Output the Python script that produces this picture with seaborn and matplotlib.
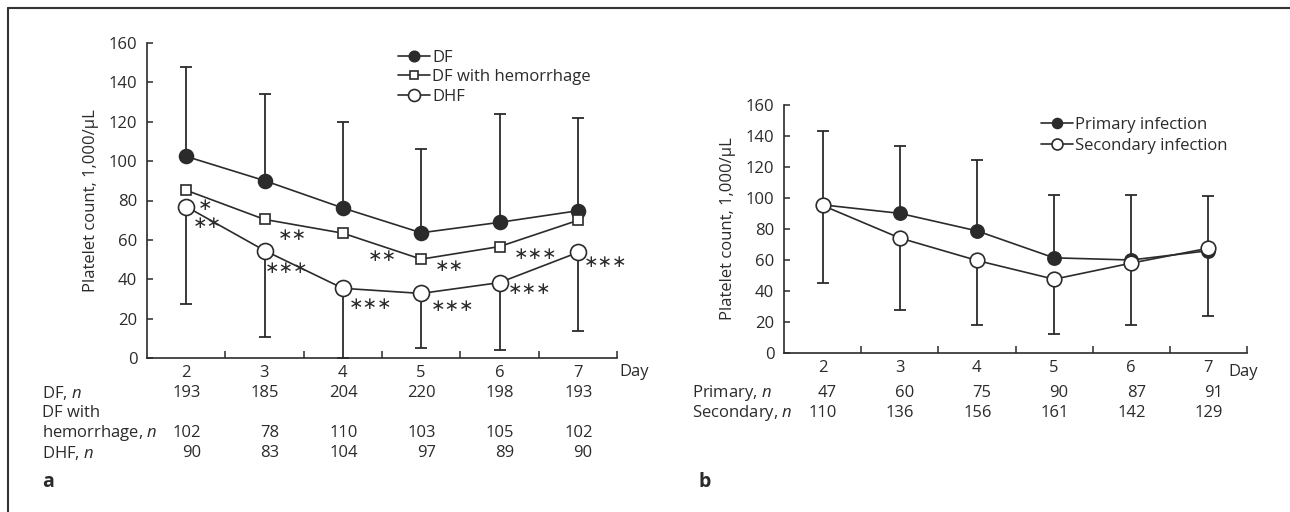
import matplotlib
matplotlib.use("Agg")
import numpy as np
import pandas as pd
import matplotlib.pyplot as plt
import matplotlib.transforms as mtransforms
from matplotlib.lines import Line2D
import seaborn as sns

W, H = 1290, 512

# Days of illness
days = [2, 3, 4, 5, 6, 7]

# Panel a: mean platelet counts (1,000/uL)
df_mean = [102.4, 90.1, 76.2, 63.6, 68.9, 74.8]
dfh_mean = [85.2, 70.4, 63.4, 50.2, 56.6, 69.9]
dhf_mean = [76.9, 54.6, 35.4, 32.8, 38.3, 53.6]
df_upper = [147.8, 134.0, 119.7, 106.3, 123.8, 122.1]
dhf_lower = [27.4, 10.9, 0.0, 5.3, 3.9, 13.6]

df_n = [193, 185, 204, 220, 198, 193]
dfh_n = [102, 78, 110, 103, 105, 102]
dhf_n = [90, 83, 104, 97, 89, 90]

# Panel b: primary vs secondary infection
prim_mean = [95.6, 90.1, 78.8, 61.4, 60.0, 66.0]
sec_mean = [95.2, 74.2, 59.7, 47.6, 58.0, 67.6]
prim_upper = [143.3, 133.3, 124.2, 101.9, 101.9, 101.3]
sec_lower = [45.3, 27.5, 18.2, 12.4, 18.2, 24.0]

prim_n = [47, 60, 75, 90, 87, 91]
sec_n = [110, 136, 156, 161, 142, 129]

# Significance marks in panel a
star_labels = ["∗", "∗∗", "∗∗", "∗∗∗", "∗∗", "∗∗∗", "∗∗", "∗∗∗", "∗∗∗", "∗∗∗", "∗∗∗"]
star_x = [2.24, 2.27, 3.36, 3.28, 4.50, 4.35, 5.36, 5.40, 6.46, 6.38, 7.35]
star_y = [77.9, 68.5, 62.6, 45.6, 51.9, 27.2, 46.9, 26.4, 52.9, 34.9, 49.0]

sns.set_style("ticks")
plt.rcParams["font.family"] = ["Open Sans", "DejaVu Sans"]
plt.rcParams["mathtext.fontset"] = "custom"
plt.rcParams["mathtext.rm"] = "Open Sans"
plt.rcParams["mathtext.it"] = "Open Sans:italic"

INK = "#2b2b2b"
FS = 12

fig = plt.figure(figsize=(W / 100, H / 100), dpi=100)
fig.patch.set_facecolor("white")

ax_a = fig.add_axes([147 / W, 1 - 358 / H, 470 / W, 315 / H])
ax_b = fig.add_axes([784 / W, 1 - 353 / H, 463 / W, 248 / H])


def style_axis(ax):
    ax.set_xlim(1.5, 7.5)
    ax.set_ylim(0, 160)
    ax.set_yticks(range(0, 161, 20))
    ax.set_xticks(days)
    ax.set_xticks([2.5, 3.5, 4.5, 5.5, 6.5, 7.5], minor=True)
    ax.tick_params(axis="x", which="major", length=0, pad=5, labelsize=FS, colors=INK)
    ax.tick_params(axis="x", which="minor", direction="in", length=5, width=1.1, color=INK)
    ax.tick_params(axis="y", direction="in", length=4, width=1.1, pad=7, labelsize=FS, colors=INK)
    for side in ["top", "right"]:
        ax.spines[side].set_visible(False)
    for side in ["left", "bottom"]:
        ax.spines[side].set_color(INK)
        ax.spines[side].set_linewidth(1.2)
    ax.set_xlabel("")
    ax.set_ylabel("Platelet count, 1,000/µL", fontsize=FS, color=INK, labelpad=7)


def draw_series(ax, mean, marker, face, ms, label):
    sns.lineplot(x=days, y=mean, ax=ax, color=INK, linewidth=1.2, marker=marker,
                 markersize=ms, markerfacecolor=face, markeredgecolor=INK,
                 markeredgewidth=1.2, label=label, legend=False, zorder=4, clip_on=False)


def draw_bar(ax, mean, bound):
    mean = np.array(mean)
    bound = np.array(bound)
    up = np.clip(bound - mean, 0, None)
    lo = np.clip(mean - bound, 0, None)
    ax.errorbar(days, mean, yerr=[lo, up], fmt="none", ecolor=INK, elinewidth=1.3,
                capsize=4.5, capthick=1.3, zorder=2, clip_on=False)


# ---- panel a
draw_bar(ax_a, df_mean, df_upper)
draw_bar(ax_a, dhf_mean, dhf_lower)
draw_series(ax_a, df_mean, "o", INK, 10, "DF")
draw_series(ax_a, dfh_mean, "s", "white", 7, "DF with hemorrhage")
draw_series(ax_a, dhf_mean, "o", "white", 11.5, "DHF")
style_axis(ax_a)

for lab, x, y in zip(star_labels, star_x, star_y):
    ax_a.text(x, y, lab, ha="center", va="center", fontsize=12.5,
              family="DejaVu Sans", color=INK, zorder=5)

ax_a.legend(loc="upper left", bbox_to_anchor=(398 / W, 1 - 50 / H),
            bbox_transform=fig.transFigure, frameon=False, fontsize=FS,
            handlelength=1.9, handletextpad=0.15, labelspacing=0.2,
            borderpad=0, borderaxespad=0, labelcolor=INK, markerscale=0.75)

# ---- panel b
draw_bar(ax_b, prim_mean, prim_upper)
draw_bar(ax_b, sec_mean, sec_lower)
draw_series(ax_b, prim_mean, "o", INK, 9.5, "Primary infection")
draw_series(ax_b, sec_mean, "o", "white", 10.5, "Secondary infection")
style_axis(ax_b)

ax_b.legend(loc="upper left", bbox_to_anchor=(1041 / W, 1 - 117 / H),
            bbox_transform=fig.transFigure, frameon=False, fontsize=FS,
            handlelength=1.9, handletextpad=0.15, labelspacing=0.3,
            borderpad=0, borderaxespad=0, labelcolor=INK, markerscale=0.75)


# ---- n rows under the axes
def n_row(ax, label_x, y_px, label, counts):
    tr = mtransforms.blended_transform_factory(ax.transData, fig.transFigure)
    fy = 1 - y_px / H
    fig.text(label_x / W, fy, label, ha="left", va="center", fontsize=FS, color=INK)
    if counts is None:
        return
    for d, c in zip(days, counts):
        ax.text(d + 0.19, fy, str(c), transform=tr, ha="right", va="center",
                fontsize=FS, color=INK, clip_on=False)


n_row(ax_a, 42, 393, "DF, $n$", df_n)
n_row(ax_a, 42, 413, "DF with", None)
n_row(ax_a, 42, 433, "hemorrhage, $n$", dfh_n)
n_row(ax_a, 42, 453, "DHF, $n$", dhf_n)

n_row(ax_b, 692, 393, "Primary, $n$", prim_n)
n_row(ax_b, 692, 413, "Secondary, $n$", sec_n)

# "Day" label at the end of each x axis
for ax, xd, ypx in [(ax_a, 7.53, 372), (ax_b, 7.26, 372)]:
    tr = mtransforms.blended_transform_factory(ax.transData, fig.transFigure)
    ax.text(xd, 1 - ypx / H, "Day", transform=tr, ha="left", va="center",
            fontsize=FS, color=INK, clip_on=False)

# panel letters
fig.text(42 / W, 1 - 482 / H, "a", fontsize=14, fontweight="bold", ha="left", va="center", color=INK)
fig.text(698 / W, 1 - 482 / H, "b", fontsize=14, fontweight="bold", ha="left", va="center", color=INK)

# outer frame (left and top)
fig.add_artist(Line2D([8 / W, 8 / W], [0, 1 - 8 / H], transform=fig.transFigure,
                      color="#333333", linewidth=1.5))
fig.add_artist(Line2D([8 / W, 1], [1 - 8 / H, 1 - 8 / H], transform=fig.transFigure,
                      color="#333333", linewidth=1.5))

fig.savefig("out.png", dpi=100)
